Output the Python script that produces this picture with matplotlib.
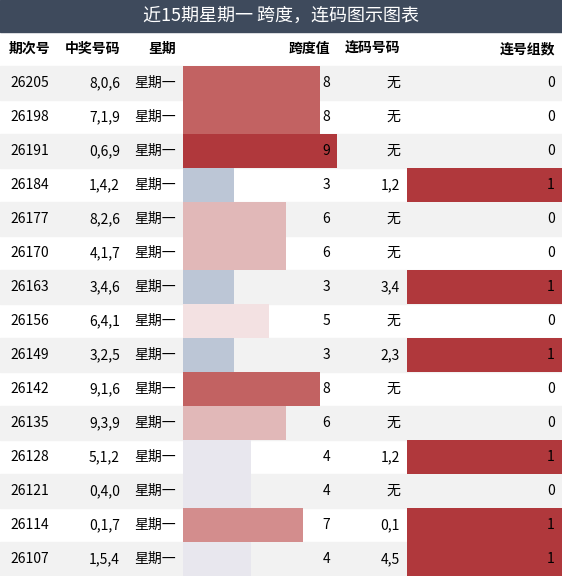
import matplotlib.pyplot as plt
from matplotlib.patches import Rectangle

plt.rcParams['font.family'] = ['Noto Sans CJK SC', 'DejaVu Sans']

issues = ["26205", "26198", "26191", "26184", "26177", "26170", "26163", "26156",
          "26149", "26142", "26135", "26128", "26121", "26114", "26107"]
numbers = ["8,0,6", "7,1,9", "0,6,9", "1,4,2", "8,2,6", "4,1,7", "3,4,6", "6,4,1",
           "3,2,5", "9,1,6", "9,3,9", "5,1,2", "0,4,0", "0,1,7", "1,5,4"]
spans = [8, 8, 9, 3, 6, 6, 3, 5, 3, 8, 6, 4, 4, 7, 4]
consec = ["无", "无", "无", "1,2", "无", "无", "3,4", "无", "2,3", "无", "无", "1,2", "无", "0,1", "4,5"]
groups = [0, 0, 0, 1, 0, 0, 1, 0, 1, 0, 0, 1, 0, 1, 1]
headers = ["期次号", "中奖号码", "星期", "跨度值", "连码号码", "连号组数"]

span_colors = {3: "#bcc6d6", 4: "#e8e7ee", 5: "#f3e1e2", 6: "#e1b8b8",
               7: "#d38d8d", 8: "#c26262", 9: "#b0383c"}

W, H = 562, 576
fig = plt.figure(figsize=(W / 100, H / 100), dpi=100)
ax = fig.add_axes([0, 0, 1, 1])
ax.set_xlim(0, W)
ax.set_ylim(H, 0)
ax.axis("off")

title_h, head_h, row_h = 32, 34, 34
ax.add_patch(Rectangle((0, 0), W, title_h, color="#3e4a5c"))
ax.text(W / 2, title_h / 2, "近15期星期一 跨度，连码图示图表", color="white",
        fontsize=13, ha="center", va="center")

head_y = title_h + head_h / 2
ax.text(30, head_y, headers[0], fontsize=10, weight="bold", ha="center", va="center")
ax.text(120, head_y, headers[1], fontsize=10, weight="bold", ha="right", va="center")
ax.text(162, head_y, headers[2], fontsize=10, weight="bold", ha="center", va="center")
ax.text(330, head_y, headers[3], fontsize=10, weight="bold", ha="right", va="center")
ax.text(400, head_y, headers[4], fontsize=10, weight="bold", ha="right", va="center")
ax.text(555, head_y, headers[5], fontsize=10, weight="bold", ha="right", va="center")

span_x0, span_w = 183, 154
grp_x0, grp_w = 407, 155
top = title_h + head_h
for i in range(len(issues)):
    y0 = top + i * row_h
    yc = y0 + row_h / 2
    if i % 2 == 0:
        ax.add_patch(Rectangle((0, y0), W, row_h, color="#f2f2f2", zorder=0))
    ax.barh(yc, spans[i] / 9 * span_w, height=row_h, left=span_x0,
            color=span_colors[spans[i]], zorder=1)
    if groups[i]:
        ax.barh(yc, groups[i] * grp_w, height=row_h, left=grp_x0,
                color="#b0383c", zorder=1)
    ax.text(10, yc, issues[i], fontsize=10, va="center", zorder=2)
    ax.text(120, yc, numbers[i], fontsize=10, ha="right", va="center", zorder=2)
    ax.text(176, yc, "星期一", fontsize=10, ha="right", va="center", zorder=2)
    ax.text(330, yc, str(spans[i]), fontsize=10, ha="right", va="center", zorder=2)
    ax.text(400, yc, consec[i], fontsize=10, ha="right", va="center", zorder=2)
    ax.text(555, yc, str(groups[i]), fontsize=10, ha="right", va="center", zorder=2)

fig.savefig("out.png", dpi=100)
